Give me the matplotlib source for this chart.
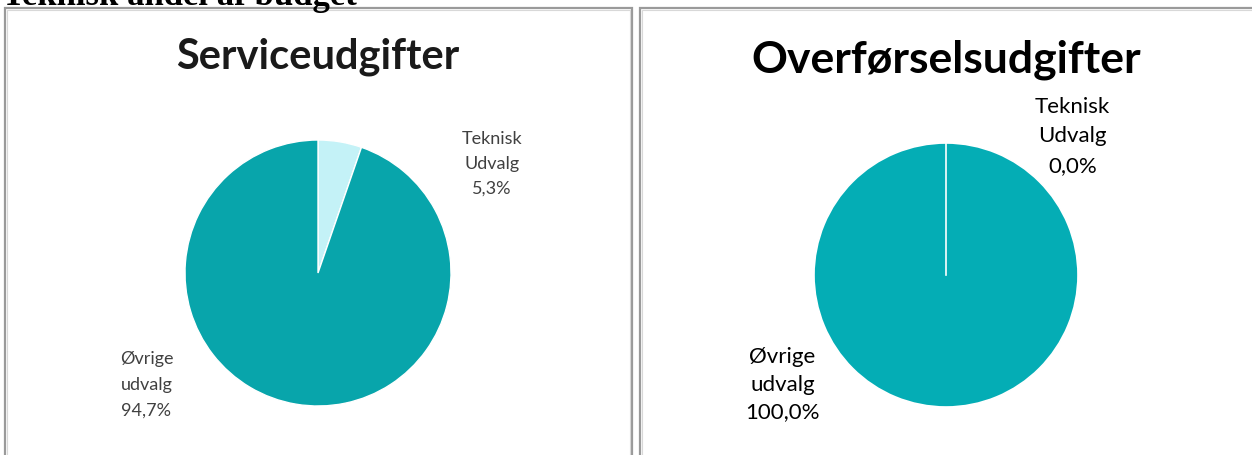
import matplotlib.pyplot as plt
from matplotlib.patches import Rectangle

W, H = 1252, 455

# data
labels = ["Teknisk\nUdvalg", "Øvrige\nudvalg"]
service_values = [5.3, 94.7]
overfoersel_values = [0.0, 100.0]
service_pct = ["5,3%", "94,7%"]
overfoersel_pct = ["0,0%", "100,0%"]

plt.rcParams['font.family'] = ['Lato', 'DejaVu Sans']

fig = plt.figure(figsize=(W / 100, H / 100), dpi=100)
fig.patch.set_facecolor("white")


def px_axes(cx, cy, r):
    # axes box in figure fraction from a pixel centre and radius
    return fig.add_axes([(cx - r) / W, 1 - (cy + r) / H, 2 * r / W, 2 * r / H])


# heading above the panels, cut by the top edge as in the source
fig.text(2 / W, 1 - 5 / H, "Teknisk andel af budget", family="Liberation Serif",
         fontweight="bold", fontsize=25, va="baseline", ha="left", color="black")

# panel borders
for x0, x1 in [(5, 632), (640, 1262)]:
    fig.patches.append(Rectangle((x0 / W, -0.05), (x1 - x0) / W, 1 - 8 / H + 0.05,
                                 transform=fig.transFigure, fill=False,
                                 edgecolor="#9a9a9a", linewidth=1.6))
    fig.patches.append(Rectangle(((x0 + 2) / W, -0.05), (x1 - x0 - 4) / W, 1 - 10 / H + 0.05,
                                 transform=fig.transFigure, fill=False,
                                 edgecolor="#d8d8d8", linewidth=0.8))

# left pie
ax1 = px_axes(318, 273, 133)
ax1.pie(service_values, colors=["#c4f2f7", "#08a5ab"], startangle=90, counterclock=False,
        wedgeprops=dict(edgecolor="white", linewidth=1.0))
ax1.set_xlim(-1, 1)
ax1.set_ylim(-1, 1)
ax1.axis("off")
ax1.text(1.31, 0.82, labels[0] + "\n" + service_pct[0], ha="center", va="center",
         fontsize=13, color="#404040", linespacing=1.7)
ax1.text(-1.29, -0.84, labels[1] + "\n" + service_pct[1], ha="center", va="center",
         fontsize=13, color="#404040", linespacing=1.75)
fig.text(318 / W, 1 - 57 / H, "Serviceudgifter", ha="center", va="center",
         fontsize=30, fontweight="bold", color="#1a1a1a")

# right pie
ax2 = px_axes(946, 275, 132)
ax2.pie(overfoersel_values, colors=["#c4f2f7", "#04adb5"], startangle=90, counterclock=False,
        wedgeprops=dict(edgecolor="white", linewidth=1.2))
ax2.plot([0, 0], [0, 1], color="white", linewidth=1.2)
ax2.set_xlim(-1, 1)
ax2.set_ylim(-1, 1)
ax2.axis("off")
ax2.text(0.96, 1.05, labels[0] + "\n" + overfoersel_pct[0], ha="center", va="center",
         fontsize=16, color="black", linespacing=1.6)
ax2.text(-1.24, -0.83, labels[1] + "\n" + overfoersel_pct[1], ha="center", va="center",
         fontsize=16, color="black", linespacing=1.45)
fig.text(946 / W, 1 - 60 / H, "Overførselsudgifter", ha="center", va="center",
         fontsize=32, fontweight="bold", color="black")

fig.savefig("out.png", dpi=100, facecolor="white")
